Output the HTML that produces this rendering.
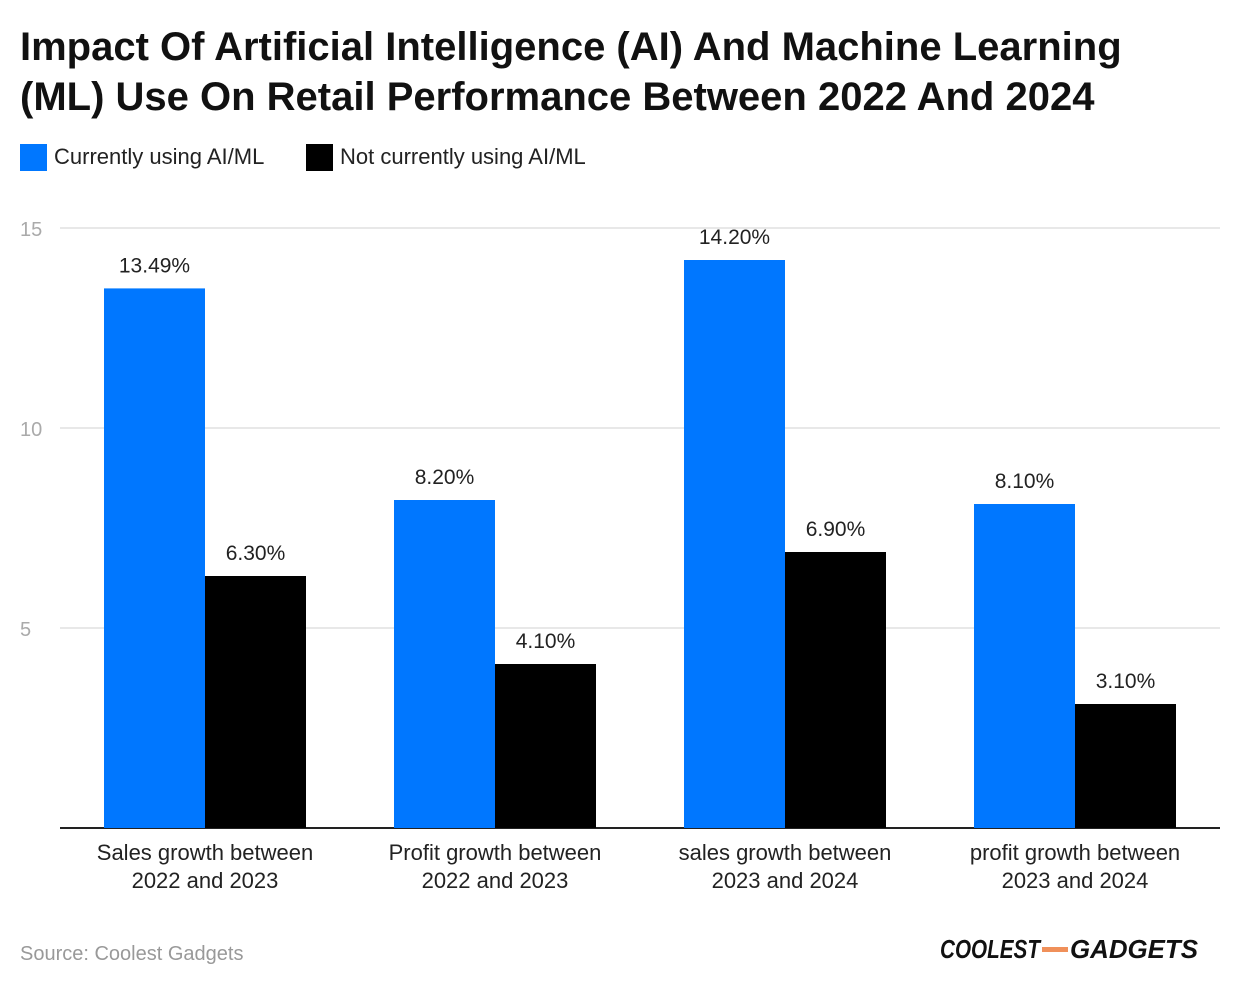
<!DOCTYPE html>
<html><head><meta charset="utf-8"><style>
body{margin:0;background:#fff;font-family:"Liberation Sans",sans-serif;}
svg text{font-family:"Liberation Sans",sans-serif;}
</style></head><body>
<svg width="1240" height="988" xmlns="http://www.w3.org/2000/svg" id="chart">
<text x="20" y="60" font-size="40" font-weight="bold" fill="#111">Impact Of Artificial Intelligence (AI) And Machine Learning</text>
<text x="20" y="110" font-size="40" font-weight="bold" fill="#111">(ML) Use On Retail Performance Between 2022 And 2024</text>
<g>
<rect x="20" y="144" width="27" height="27" fill="#0077ff"/>
<text x="54" y="164" font-size="22" fill="#222">Currently using AI/ML</text>
<rect x="306" y="144" width="27" height="27" fill="#000"/>
<text x="340" y="164" font-size="22" fill="#222">Not currently using AI/ML</text>
</g>
<g id="grid"></g><g id="bars"></g><g id="xl"></g>
<text x="20" y="960" font-size="20" fill="#999">Source: Coolest Gadgets</text>
<g>
<text x="940" y="958" font-size="26" font-weight="bold" font-style="italic" fill="#111" textLength="100" lengthAdjust="spacingAndGlyphs">COOLEST</text>
<rect x="1042" y="947" width="26" height="5" fill="#f0905a"/>
<text x="1070" y="958" font-size="26" font-weight="bold" font-style="italic" fill="#111" textLength="128" lengthAdjust="spacingAndGlyphs">GADGETS</text>
</g>
</svg>
<script>
const categories=[["Sales growth between","2022 and 2023"],["Profit growth between","2022 and 2023"],["sales growth between","2023 and 2024"],["profit growth between","2023 and 2024"]];
const usingVals=[13.49,8.2,14.2,8.1];
const notUsingVals=[6.3,4.1,6.9,3.1];
const usingLabels=["13.49%","8.20%","14.20%","8.10%"];
const notUsingLabels=["6.30%","4.10%","6.90%","3.10%"];
const yTicks=[5,10,15];
const NS="http://www.w3.org/2000/svg";
const x0=60,x1=1220,yBase=828,pxPerUnit=40;
const y=v=>yBase-v*pxPerUnit;
const gw=(x1-x0)/categories.length;
const bw=101;
function mk(tag,attrs,parent){const e=document.createElementNS(NS,tag);for(const k in attrs)e.setAttribute(k,attrs[k]);parent.appendChild(e);return e;}
const grid=document.getElementById('grid'),bars=document.getElementById('bars'),xl=document.getElementById('xl');
yTicks.forEach(t=>{
 const l=mk('line',{x1:x0,x2:x1,y1:y(t),y2:y(t),stroke:'#e0e0e0','stroke-width':1.5},grid);
 
 
 const tx=mk('text',{x:20,y:y(t)+8,'font-size':20,fill:'#aaa'},grid);
 tx.textContent=t;
 
 
});
const ax=mk('line',{x1:x0,x2:x1,y1:yBase,y2:yBase,stroke:'#222','stroke-width':2},grid);


categories.forEach((c,i)=>{
 const cx=x0+gw*(i+0.5);
 [[usingVals[i],usingLabels[i],'#0077ff',cx-bw,'using'],[notUsingVals[i],notUsingLabels[i],'#000',cx,'not-using']].forEach(([v,lab,col,bx,s])=>{
  const r=mk('rect',{x:bx,y:y(v),width:bw,height:yBase-y(v),fill:col},bars);
  
  
  const t=mk('text',{x:bx+bw/2,y:y(v)-16,'font-size':21,fill:'#222','text-anchor':'middle'},bars);
  t.textContent=lab;
  
  
 });
 c.forEach((ln,j)=>{
  const t=mk('text',{x:cx,y:860+j*28,'font-size':22,fill:'#222','text-anchor':'middle'},xl);
  t.textContent=ln;
  
  
 });
});
</script>
</body></html>
